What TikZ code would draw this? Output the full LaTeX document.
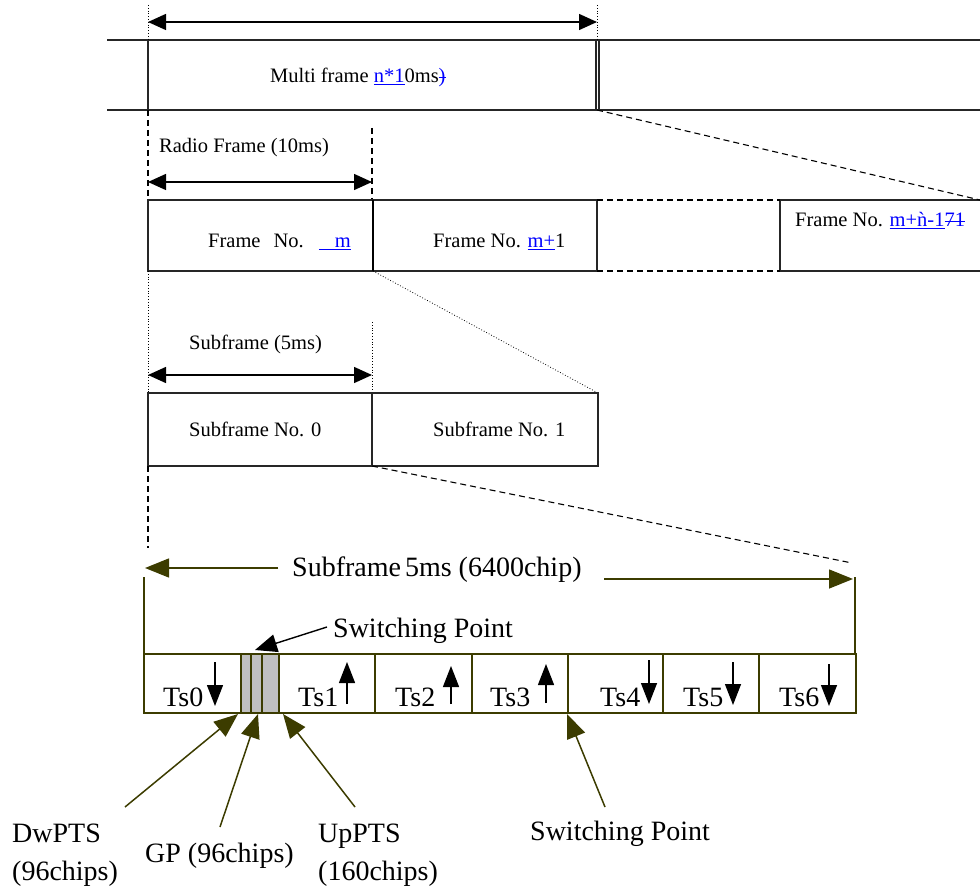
\documentclass[tikz,border=0pt]{standalone}
\usepackage{fontspec}
\setmainfont{Liberation Serif}
\usetikzlibrary{arrows.meta}
\definecolor{olv}{RGB}{60,60,0}
\definecolor{lnk}{RGB}{0,0,255}
\definecolor{gpfill}{RGB}{192,192,192}
\newsavebox\strkbox
\newcommand\strk[1]{\sbox\strkbox{#1}\rlap{\rule[0.25em]{\wd\strkbox}{0.05em}}\usebox\strkbox}
\newcommand\lk[1]{\textcolor{lnk}{\underline{#1}}}
\begin{document}
\begin{tikzpicture}[x=1pt,y=-1pt,
  small/.style={font=\fontsize{20.5}{24}\selectfont,inner sep=0pt,anchor=base west},
  big/.style={font=\fontsize{28}{32}\selectfont,inner sep=0pt,anchor=base west},
  frm/.style={draw=black!85,line width=1.1pt},
  dimarrow/.style={line width=1.4pt,{Triangle[length=18pt,width=16pt]}-{Triangle[length=18pt,width=16pt]}},
  slotline/.style={draw=olv,line width=2pt},
  olvarrow/.style={draw=olv,line width=1.5pt,-{Triangle[length=24pt,width=19pt]},fill=olv},
  tsarrow/.style={line width=1.4pt,-{Triangle[length=21pt,width=16pt]}},
  ddash/.style={dashed,dash pattern=on 6pt off 4pt,line width=1.1pt},
  ddot/.style={dotted,line width=0.8pt}]
\useasboundingbox (0,0) rectangle (980,893);

% ---------- multi frame ----------
\coordinate (mfL) at (148,40); \coordinate (mfR) at (597,40);
\coordinate (mfLb) at (148,110); \coordinate (mfRb) at (597,110);
\draw[frm] (107,40) -- (980,40);
\draw[frm] (107,110) -- (980,110);
\draw[frm] (mfL) -- (mfLb);
\draw[frm] (596,40) -- (596,110);
\draw[frm] (599,40) -- (599,110);
\draw[ddot] (148,5) coordinate (dl) -- (mfL);
\draw[ddot] (597,5) coordinate (dr) -- (mfR);
\coordinate (a1) at (148,22); \coordinate (a2) at (597,22);
\draw[dimarrow] (a1) -- (a2);
\node[small] (mf) at (270,83) {Multi frame \lk{n*1}0ms\textcolor{lnk}{\strk{)}}};

% ---------- radio frames ----------
\coordinate (f0tl) at (148,200); \coordinate (f0br) at (373,271);
\coordinate (f1tl) at (373,200); \coordinate (f1br) at (597,271);
\coordinate (fntl) at (780,200); \coordinate (fnbr) at (985,271);
\draw[ddash] (mfLb) -- (f0tl);
\draw[ddash] (372,128) -- (372,200);
\coordinate (b1) at (148,182); \coordinate (b2) at (372,182);
\draw[dimarrow] (b1) -- (b2);
\node[small] (rf) at (159,153) {Radio Frame (10ms)};
\draw[frm] (f0tl) rectangle (f0br);
\draw[frm] (f1tl) rectangle (f1br);
\draw[line width=2pt] (373,200) -- (373,271);
\draw[frm] (fntl) rectangle (fnbr);
\draw[ddash] (597,200) -- (780,200);
\draw[ddash] (597,271) -- (780,271);
\draw[ddash] (mfRb) -- (980,200);
\node[small] (f0) at (208,248) {Frame\hspace{13pt}No.\hspace{15pt}\lk{\hspace{16pt}m}};
\node[small] (f1) at (433,248) {Frame No. \lk{m+}1};
\node[small] (fn) at (795,227) {Frame No. \lk{m+\`{n}-1}\textcolor{lnk}{\strk{71}}};

% ---------- subframes ----------
\coordinate (s0tl) at (148,393); \coordinate (s0br) at (372,466);
\coordinate (s1tl) at (372,393); \coordinate (s1br) at (598,466);
\draw[ddot] (148,271) -- (s0tl);
\draw[ddot] (372,322) -- (372,393);
\draw[ddot] (373,271) -- (598,393);
\coordinate (c1) at (148,375); \coordinate (c2) at (372,375);
\draw[dimarrow] (c1) -- (c2);
\node[small] (sf) at (189,349) {Subframe (5ms)};
\draw[frm] (s0tl) rectangle (s0br);
\draw[frm] (s1tl) rectangle (s1br);
\node[small] (s0) at (189,436) {Subframe No. 0};
\node[small] (s1) at (433,436) {Subframe No. 1};
\draw[ddash] (372,466) -- (852,563);
\draw[ddash] (148,466) -- (148,548);

% ---------- slot structure ----------
\node[big] (sub) at (292,576) {Subframe\hspace{4pt}5ms (6400chip)};
\coordinate (la) at (278,568); \coordinate (lt) at (145,568);
\coordinate (ra) at (604,579); \coordinate (rt) at (853,579);
\draw[olvarrow] (la) -- (lt);
\draw[olvarrow] (ra) -- (rt);
\draw[slotline] (144,577) -- (144,654);
\draw[slotline] (855,577) -- (855,654);
\fill[gpfill] (241,654) rectangle (279,713);
\draw[slotline] (144,654) rectangle (856,713);
\foreach \xx in {241,251,262,279,375,472,568,663,759}
  \draw[slotline] (\xx,654) -- (\xx,713);

\node[big] (ts0) at (163,706) {Ts0};
\node[big] (ts1) at (298,706) {Ts1};
\node[big] (ts2) at (395,706) {Ts2};
\node[big] (ts3) at (490,706) {Ts3};
\node[big] (ts4) at (600,706) {Ts4};
\node[big] (ts5) at (683,706) {Ts5};
\node[big] (ts6) at (779,706) {Ts6};
\draw[tsarrow] (215,662) -- (215,706);
\draw[tsarrow] (347,704) -- (347,662);
\draw[tsarrow] (451,704) -- (451,666);
\draw[tsarrow] (546,703) -- (546,664);
\draw[tsarrow] (649,660) -- (649,704);
\draw[tsarrow] (733,662) -- (733,705);
\draw[tsarrow] (829,664) -- (829,706);

\node[big] (sw1) at (333,637) {Switching Point};
\coordinate (sw1s) at (327,627); \coordinate (sw1t) at (255,650);
\draw[line width=1.4pt,-{Triangle[length=22pt,width=18pt]}] (sw1s) -- (sw1t);

% ---------- bottom labels ----------
\node[big] (dw) at (12,842) {DwPTS};
\node[big] (dw2) at (12,880) {(96chips)};
\node[big] (gp) at (145,862) {GP (96chips)};
\node[big] (up) at (318,842) {UpPTS};
\node[big] (up2) at (318,880) {(160chips)};
\node[big] (sw2) at (530,840) {Switching Point};
\draw[olvarrow] (125,807) -- (238,714);
\draw[olvarrow] (220,827) -- (258,714);
\draw[olvarrow] (355,807) -- (283,714);
\draw[olvarrow] (605,807) -- (567,714);
\end{tikzpicture}
\end{document}
